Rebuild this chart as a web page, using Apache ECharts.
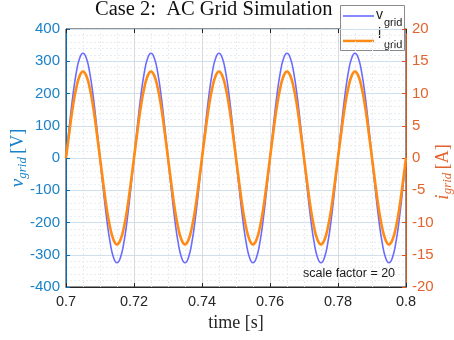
<!DOCTYPE html>
<html>
<head>
<meta charset="utf-8">
<script src="https://cdn.jsdelivr.net/npm/echarts@6/dist/echarts.min.js"></script>
<style>
  html, body { margin: 0; padding: 0; background: #ffffff; }
  #chart { width: 454px; height: 340px; }
</style>
</head>
<body>
<div id="chart"></div>
<script>
// Sampling of the simulated grid waveforms (time axis in seconds)
const tStart = 0.7;
const tStep = 0.001;

// Grid voltage samples [V], one row per 50 Hz cycle
const vGrid = [
  0, 100, 191, 263, 309, 325, 309, 263, 191, 100, 0, -100, -191, -263, -309, -325, -309, -263, -191, -100,
  0, 100, 191, 263, 309, 325, 309, 263, 191, 100, 0, -100, -191, -263, -309, -325, -309, -263, -191, -100,
  0, 100, 191, 263, 309, 325, 309, 263, 191, 100, 0, -100, -191, -263, -309, -325, -309, -263, -191, -100,
  0, 100, 191, 263, 309, 325, 309, 263, 191, 100, 0, -100, -191, -263, -309, -325, -309, -263, -191, -100,
  0, 100, 191, 263, 309, 325, 309, 263, 191, 100, 0, -100, -191, -263, -309, -325, -309, -263, -191, -100,
  0
];

// Grid current samples [A], one row per 50 Hz cycle
const iGrid = [
  0, 4.1, 7.9, 10.8, 12.7, 13.4, 12.7, 10.8, 7.9, 4.1, 0, -4.1, -7.9, -10.8, -12.7, -13.4, -12.7, -10.8, -7.9, -4.1,
  0, 4.1, 7.9, 10.8, 12.7, 13.4, 12.7, 10.8, 7.9, 4.1, 0, -4.1, -7.9, -10.8, -12.7, -13.4, -12.7, -10.8, -7.9, -4.1,
  0, 4.1, 7.9, 10.8, 12.7, 13.4, 12.7, 10.8, 7.9, 4.1, 0, -4.1, -7.9, -10.8, -12.7, -13.4, -12.7, -10.8, -7.9, -4.1,
  0, 4.1, 7.9, 10.8, 12.7, 13.4, 12.7, 10.8, 7.9, 4.1, 0, -4.1, -7.9, -10.8, -12.7, -13.4, -12.7, -10.8, -7.9, -4.1,
  0, 4.1, 7.9, 10.8, 12.7, 13.4, 12.7, 10.8, 7.9, 4.1, 0, -4.1, -7.9, -10.8, -12.7, -13.4, -12.7, -10.8, -7.9, -4.1,
  0
];

// Axis ranges and tick spacing
const timeRange = [0.7, 0.8], timeInterval = 0.02;
const voltRange = [-400, 400], voltInterval = 100;
const ampRange = [-20, 20], ampInterval = 5;

const titleText = 'Case 2:  AC Grid Simulation';
const noteText = 'scale factor = 20';

const vColor = '#6b6bff';
const iColor = '#ff8a14';
const leftAxisColor = '#0072BD';
const leftLabelColor = '#1a82c8';
const rightAxisColor = '#D95319';
const rightLabelColor = '#e2642c';
const darkAxis = '#262626';
const legendText = '#1a1a1a';

const round = (x) => Math.round(x * 1e6) / 1e6;
const vData = vGrid.map((v, k) => [round(tStart + k * tStep), v]);
const iData = iGrid.map((v, k) => [round(tStart + k * tStep), v]);

const sans = '"Liberation Sans", Arial, Helvetica, sans-serif';
const serif = '"Liberation Serif", "DejaVu Serif", serif';

const chart = echarts.init(document.getElementById('chart'), null, { renderer: 'canvas' });

// rotated axis title built from a symbol, its subscript and a unit
function axisTitle(x, y, sym, unit, color) {
  return {
    type: 'text', x: x, y: y, rotation: Math.PI / 2,
    style: {
      text: '{m|' + sym + '}{s|grid} {u|' + unit + '}',
      align: 'center', verticalAlign: 'middle', fill: color,
      rich: {
        m: { fontFamily: serif, fontStyle: 'italic', fontSize: 19, lineHeight: 22, verticalAlign: 'middle', fill: color },
        s: { fontFamily: serif, fontStyle: 'italic', fontSize: 13, lineHeight: 12, verticalAlign: 'bottom', fill: color },
        u: { fontFamily: serif, fontSize: 18, lineHeight: 22, verticalAlign: 'middle', fill: color }
      }
    }
  };
}

// legend entry text: symbol plus lowered "grid" subscript
function legendLabel(x, y, sym, subDy) {
  return [
    { type: 'text', x: x, y: y,
      style: { text: sym, align: 'left', verticalAlign: 'middle', fontFamily: sans, fontSize: 14, fill: legendText } },
    { type: 'text', x: 384, y: y + subDy,
      style: { text: 'grid', align: 'left', verticalAlign: 'middle', fontFamily: sans, fontSize: 11, fill: legendText } }
  ];
}

chart.setOption({
  animation: false,
  backgroundColor: '#ffffff',
  title: {
    text: titleText,
    left: 95,
    top: -1,
    padding: 0,
    textStyle: { fontFamily: serif, fontSize: 20.5, fontWeight: 'normal', color: '#111111' }
  },
  grid: {
    left: 66, right: 48, top: 29, bottom: 53,
    show: true, borderColor: darkAxis, borderWidth: 1, backgroundColor: 'transparent'
  },
  xAxis: [{
    type: 'value',
    min: timeRange[0], max: timeRange[1], interval: timeInterval,
    position: 'bottom',
    axisLine: { show: true, onZero: false, lineStyle: { color: darkAxis, width: 1 } },
    axisTick: { show: true, inside: true, length: 4, lineStyle: { color: darkAxis } },
    axisLabel: {
      color: darkAxis, fontFamily: sans, fontSize: 14.5, margin: 7,
      formatter: (val) => String(round(val))
    },
    splitLine: { show: true, lineStyle: { color: '#d8dadd', width: 1 } },
    minorTick: { show: false, splitNumber: 4 },
    minorSplitLine: { show: true, lineStyle: { color: '#e8ecf0', type: [2, 2], width: 1 } }
  }, {
    type: 'value',
    min: timeRange[0], max: timeRange[1], interval: timeInterval,
    position: 'top',
    axisLine: { show: false, onZero: false },
    axisTick: { show: true, inside: true, length: 4, lineStyle: { color: darkAxis } },
    axisLabel: { show: false },
    splitLine: { show: false }
  }],
  yAxis: [{
    type: 'value',
    min: voltRange[0], max: voltRange[1], interval: voltInterval,
    position: 'left',
    axisLine: { show: true, onZero: false, lineStyle: { color: leftAxisColor, width: 1 } },
    axisTick: { show: true, inside: true, length: 4, lineStyle: { color: leftAxisColor } },
    axisLabel: { color: leftLabelColor, fontFamily: sans, fontSize: 15, margin: 6 },
    splitLine: { show: true, lineStyle: { color: '#cfe0ec', width: 1 } },
    minorTick: { show: false, splitNumber: 5 },
    minorSplitLine: { show: true, lineStyle: { color: '#e8edf2', type: [2, 2], width: 1 } }
  }, {
    type: 'value',
    min: ampRange[0], max: ampRange[1], interval: ampInterval,
    position: 'right',
    axisLine: { show: true, onZero: false, lineStyle: { color: rightAxisColor, width: 1 } },
    axisTick: { show: true, inside: true, length: 4, lineStyle: { color: rightAxisColor } },
    axisLabel: { color: rightLabelColor, fontFamily: sans, fontSize: 15, margin: 6 },
    splitLine: { show: false }
  }],
  series: [{
    name: 'v_grid',
    type: 'line',
    xAxisIndex: 0,
    yAxisIndex: 0,
    data: vData,
    smooth: true,
    showSymbol: false,
    lineStyle: { color: vColor, width: 1.6 },
    z: 2
  }, {
    name: 'i_grid',
    type: 'line',
    xAxisIndex: 0,
    yAxisIndex: 1,
    data: iData,
    smooth: true,
    showSymbol: false,
    lineStyle: { color: iColor, width: 2.6 },
    z: 3
  }],
  graphic: [
    axisTitle(18, 158, 'v', '[V]', leftLabelColor),
    axisTitle(443, 172, 'i', '[A]', rightLabelColor),
    {
      type: 'text', x: 236, y: 323,
      style: {
        text: 'time [s]', align: 'center', verticalAlign: 'middle',
        fontFamily: serif, fontSize: 18, fill: '#262626'
      }
    },
    {
      type: 'text', x: 303, y: 274,
      style: {
        text: noteText, align: 'left', verticalAlign: 'middle',
        fontFamily: sans, fontSize: 12.5, fill: '#1a1a1a'
      },
      z: 10
    },
    {
      type: 'group', z: 20,
      children: [
        { type: 'rect', shape: { x: 340.5, y: 5.5, width: 64, height: 45 },
          style: { fill: '#ffffff', stroke: '#8a8a8a', lineWidth: 1 } },
        { type: 'line', shape: { x1: 343, y1: 16, x2: 374, y2: 16 },
          style: { stroke: vColor, lineWidth: 1.6 } },
        { type: 'line', shape: { x1: 343, y1: 41, x2: 374, y2: 41 },
          style: { stroke: iColor, lineWidth: 2.6 } }
      ].concat(legendLabel(376, 15, 'v', 8), legendLabel(378, 34, 'i', 11))
    }
  ]
});
</script>
</body>
</html>
